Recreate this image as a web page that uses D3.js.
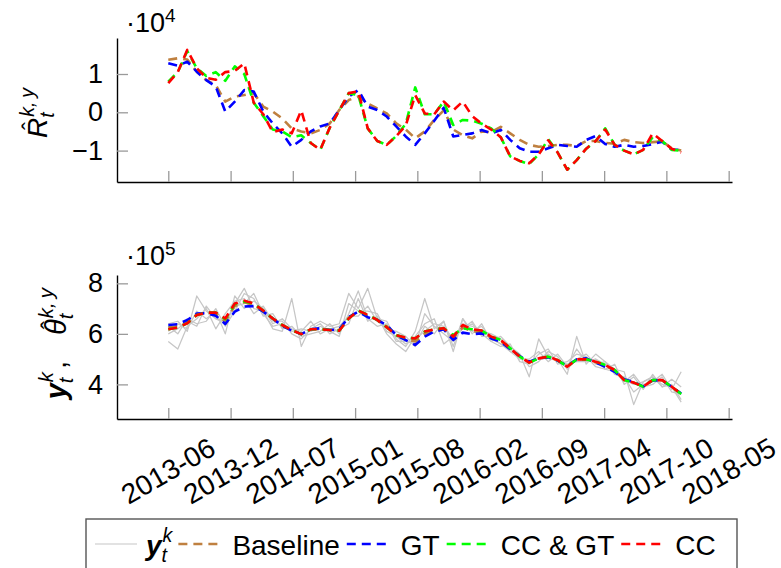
<!DOCTYPE html>
<html><head><meta charset="utf-8">
<script src="https://cdn.jsdelivr.net/npm/d3@7"></script>
<style>
body{margin:0;background:#fff}
svg{display:block}
text{font-family:"Liberation Sans", Arial, Helvetica, sans-serif; fill:#000}
</style>
</head><body>
<svg id="c" width="781" height="568"></svg>
<script>
// ---------- DATA ----------
const xTickPos = [0, 6.56, 13.11, 19.67, 26.22, 32.78, 39.33, 45.89, 52.44, 59];
const xTickLabels = ["2013-06","2013-12","2014-07","2015-01","2015-08","2016-02","2016-09","2017-04","2017-10","2018-05"];
const topTicks = [-1, 0, 1];   // x 10^4
const botTicks = [4, 6, 8];    // x 10^5

// Top panel: R-hat (in units of 1e4), monthly from 2013-06
const rBaseline = [1.37,1.41,1.38,1.06,0.84,0.71,0.28,0.41,0.45,0.5,0.15,0.02,-0.16,-0.42,-0.5,-0.55,-0.46,-0.29,0.06,0.32,0.41,0.23,0.1,-0.03,-0.29,-0.45,-0.68,-0.5,-0.2,0.05,-0.45,-0.6,-0.68,-0.5,-0.52,-0.38,-0.55,-0.72,-0.85,-0.9,-0.88,-0.85,-0.85,-0.88,-0.75,-0.75,-0.8,-0.82,-0.72,-0.78,-0.8,-0.78,-0.76,-0.94,-1.0];
const rGT = [1.28,1.22,1.32,1.06,0.84,0.67,0.02,0.28,0.58,0.54,0.02,-0.29,-0.55,-0.9,-0.72,-0.5,-0.37,-0.29,0.06,0.41,0.58,0.15,0.06,-0.11,-0.37,-0.63,-0.85,-0.55,-0.22,0.12,-0.63,-0.59,-0.55,-0.46,-0.55,-0.46,-0.72,-0.94,-1.03,-1.03,-0.94,-0.85,-0.88,-0.9,-0.72,-0.62,-0.83,-0.9,-0.85,-0.9,-0.88,-0.83,-0.77,-0.97,-0.98];
const rCCGT = [0.8,1.05,1.6,1.15,0.95,1.05,0.82,1.2,1.0,0.25,-0.1,-0.45,-0.5,-0.65,-0.6,-0.8,-0.98,-0.4,0.05,0.5,0.45,-0.42,-0.75,-0.85,-0.62,-0.3,0.65,-0.05,-0.05,0.28,-0.33,-0.2,-0.22,-0.3,-0.42,-0.65,-1.15,-1.27,-1.35,-1.1,-0.7,-1.05,-1.5,-1.25,-0.95,-0.75,-0.42,-0.85,-1.0,-1.1,-0.98,-0.65,-0.75,-0.98,-1.0];
const rCC = [0.76,1.05,1.63,1.15,0.9,0.85,1.05,1.08,1.28,0.25,-0.05,-0.52,-0.45,-0.55,0.05,-0.8,-0.98,-0.4,0.05,0.5,0.55,-0.42,-0.75,-0.85,-0.62,-0.35,0.45,-0.03,-0.05,0.28,0.05,0.28,-0.1,-0.3,-0.45,-0.65,-1.15,-1.27,-1.33,-1.1,-0.73,-1.05,-1.5,-1.25,-0.95,-0.75,-0.45,-0.85,-1.0,-1.1,-0.98,-0.55,-0.75,-0.95,-1.05];

// Bottom panel: observations y_t^k and estimates theta-hat (in units of 1e5)
const yObs1 = [6.4,6.5,6.1,7.5,6.9,6.6,6.4,7.2,7.8,7.0,6.9,6.2,6.1,7.4,5.5,6.3,6.5,6.3,6.4,7.6,7.0,7.8,6.6,6.5,5.8,5.5,6.1,7.4,6.2,6.5,5.3,6.6,6.0,6.4,5.7,5.9,5.5,5.2,4.3,5.8,5.1,5.0,4.4,5.9,4.8,5.2,4.9,4.6,4.5,3.2,4.1,4.3,3.9,4.2,3.9];
const yObs2 = [5.7,5.4,6.3,6.6,7.0,6.2,6.8,7.3,7.4,6.8,7.1,6.5,6.5,6.0,5.8,6.2,6.4,6.0,6.2,6.4,7.4,6.5,6.7,6.0,5.6,5.3,5.9,6.4,6.6,5.6,5.9,6.2,6.4,6.0,5.7,5.5,5.6,4.9,4.8,5.2,5.4,4.8,4.9,5.2,5.1,4.7,4.6,4.8,4.0,4.3,3.8,4.4,3.9,4.0,3.4];
const yObs3 = [6.3,6.0,6.6,6.4,6.5,7.0,6.3,6.9,7.6,7.4,6.7,6.8,6.2,6.3,5.9,6.0,6.1,6.4,6.0,6.8,7.7,6.6,6.3,6.4,5.7,5.7,5.6,6.3,6.0,6.5,5.5,6.6,6.1,6.3,5.8,5.6,5.3,5.2,4.7,4.9,5.3,5.1,4.6,5.0,5.2,4.8,4.9,4.4,4.3,3.7,4.0,4.1,4.4,3.8,4.5];
const yObs4 = [6.1,6.4,6.2,6.9,6.6,6.9,6.0,7.5,7.0,7.3,7.0,6.4,6.6,6.2,6.1,6.5,6.0,6.2,6.3,6.7,6.7,7.1,6.5,6.2,6.1,5.9,5.5,6.8,6.3,6.0,5.7,6.4,6.3,6.1,6.0,5.8,5.3,5.0,5.0,5.3,4.9,5.2,4.7,5.4,4.9,5.0,4.6,4.5,4.1,4.4,3.9,4.0,4.3,3.7,3.6];
const yObs5 = [6.0,6.2,6.5,6.3,7.1,6.6,6.5,7.1,7.2,7.6,6.8,6.3,6.4,6.1,6.2,6.1,6.3,6.1,5.9,7.2,6.9,6.9,6.8,6.1,5.9,5.6,5.8,6.1,6.4,6.3,5.8,6.2,6.5,5.9,5.9,5.6,5.4,5.1,4.9,5.0,5.2,4.9,4.8,4.9,4.9,5.0,4.8,4.6,4.2,4.0,4.1,4.3,4.0,3.9,3.3];
const tBaseline = [6.25,6.3,6.45,6.75,6.83,6.8,6.5,7.1,7.25,7.15,6.9,6.6,6.33,6.14,5.99,6.18,6.2,6.15,6.15,6.63,6.9,6.72,6.55,6.3,5.95,5.8,5.7,6.0,6.14,6.2,5.85,6.25,6.1,6.08,5.85,5.72,5.41,5.11,4.88,5.03,5.08,4.95,4.72,4.99,5.01,4.88,4.74,4.54,4.18,4.08,3.91,4.17,4.16,3.91,3.63];
const tGT = [6.35,6.38,6.55,6.8,6.82,6.72,6.39,6.88,7.08,7.1,6.88,6.61,6.31,6.13,5.99,6.18,6.22,6.15,6.18,6.66,6.88,6.66,6.55,6.35,5.95,5.75,5.56,5.89,6.09,6.18,5.76,6.05,5.99,6.02,5.82,5.69,5.39,5.12,4.9,5.03,5.07,4.94,4.73,4.99,5.03,4.86,4.7,4.5,4.2,4.1,3.91,4.17,4.15,3.91,3.64];
const tCCGT = [6.18,6.25,6.42,6.75,6.84,6.84,6.58,7.18,7.28,7.2,6.92,6.61,6.35,6.15,5.99,6.18,6.18,6.15,6.13,6.61,6.92,6.75,6.55,6.26,5.95,5.85,5.82,6.09,6.18,6.22,5.95,6.22,6.18,6.13,5.89,5.76,5.43,5.1,4.86,5.03,5.1,4.96,4.7,4.99,4.99,4.9,4.77,4.57,4.17,4.07,3.91,4.17,4.17,3.91,3.62];
const tCC = [6.18,6.25,6.42,6.75,6.84,6.84,6.61,7.2,7.31,7.2,6.92,6.61,6.35,6.15,5.99,6.18,6.18,6.15,6.13,6.61,6.92,6.75,6.55,6.26,5.95,5.85,5.82,6.09,6.18,6.22,5.89,6.35,6.18,6.13,5.89,5.76,5.43,5.1,4.86,5.03,5.1,4.96,4.7,4.99,4.99,4.9,4.77,4.57,4.17,4.07,3.91,4.17,4.17,3.91,3.62];

const seriesNames = ["Baseline","GT","CC & GT","CC"];
const seriesColors = ["#bf8040","#0000ff","#00ff00","#ff0000"];
const greyColor = "#c6c6c6";

// ---------- DRAW ----------
const svg = d3.select("#c");
const x = d3.scaleLinear().domain([-5.4, 59.35]).range([117, 732]);
const yTop = d3.scaleLinear().domain([-1.82, 1.94]).range([182, 38]);
const yBot = d3.scaleLinear().domain([2.63, 8.33]).range([419, 275]);
const DASH = "9,6";

function drawPanel(y, ticks, expo, expY, dashedSeries, greySeries) {
  const g = svg.append("g");
  const [yb] = y.range();
  const ax = g.append("g").attr("transform", `translate(0,${yb})`)
    .call(d3.axisBottom(x).tickValues(xTickPos).tickSize(-11).tickSizeOuter(0).tickFormat(""));
  ax.selectAll(".tick line").attr("stroke", "#9a9a9a").attr("stroke-width", 1.3);
  ax.select(".domain").attr("stroke", "#000").attr("stroke-width", 1.4);
  const ay = g.append("g").attr("transform", `translate(117,0)`)
    .call(d3.axisLeft(y).tickValues(ticks).tickSize(-11).tickSizeOuter(0).tickPadding(14).tickFormat(d3.format("d")));
  ay.selectAll(".tick line").attr("stroke", "#9a9a9a").attr("stroke-width", 1.3);
  ay.select(".domain").attr("stroke", "#000").attr("stroke-width", 1.4);
  ay.selectAll(".tick text").attr("font-size", 27).attr("font-family", '"Liberation Sans", Arial, sans-serif').attr("fill", "#000");
  const ex = g.append("text").attr("x", 126).attr("y", expY).attr("font-size", 27);
  ex.append("tspan").text("\u00b710");
  ex.append("tspan").attr("font-size", 19).attr("dy", -10).text(expo);

  const line = d3.line().x((d, i) => x(i)).y(d => y(d));
  (greySeries || []).forEach(s => {
    g.append("path").attr("d", line(s)).attr("fill", "none")
      .attr("stroke", greyColor).attr("stroke-width", 1.25).attr("stroke-linejoin", "round");
  });
  dashedSeries.forEach((s, k) => {
    g.append("path").attr("d", line(s)).attr("fill", "none")
      .attr("stroke", seriesColors[k]).attr("stroke-width", 2.6)
      .attr("stroke-dasharray", DASH).attr("stroke-linejoin", "round");
  });
  return g;
}

drawPanel(yTop, topTicks, "4", 31.7, [rBaseline, rGT, rCCGT, rCC], null);
drawPanel(yBot, botTicks, "5", 265, [tBaseline, tGT, tCCGT, tCC], [yObs1, yObs2, yObs3, yObs4, yObs5]);

// x tick labels (rotated, centred under ticks)
svg.append("g").selectAll("text").data(xTickPos).join("text")
  .attr("transform", d => `translate(${x(d)},471) rotate(-30)`)
  .attr("text-anchor", "middle").attr("dominant-baseline", "central")
  .attr("font-size", 28)
  .text((d, i) => xTickLabels[i]);

// ---- math text as a single <text> with tspans ----
function measure(str, fs, style, weight) {
  const m = svg.append("text").attr("font-size", fs).attr("font-style", style || "normal")
    .attr("font-weight", weight || "normal").text(str);
  const w = m.node().getComputedTextLength();
  m.remove();
  return w;
}
function mathText(parent, items, size) {
  const t = parent.append("text").attr("x", 0).attr("y", 0).attr("font-size", size);
  let curDy = 0, pendDx = 0, total = 0;
  const dyTo = v => { const d = v - curDy; curDy = v; return d; };
  const ss = size * 0.7;
  items.forEach(it => {
    const st = it.italic ? "italic" : "normal", wt = it.bold ? "bold" : "normal";
    const w = measure(it.text, size, st, wt);
    t.append("tspan").attr("dx", pendDx + (it.before || 0)).attr("dy", dyTo(0))
      .attr("font-style", st).attr("font-weight", wt).text(it.text);
    total += pendDx + (it.before || 0) + w;
    pendDx = 0;
    if (it.hat) {
      const hs = size * 0.85, hw = measure("\u02c6", hs);
      const back = -(w / 2 + hw / 2) + 2;
      t.append("tspan").attr("dx", back).attr("dy", dyTo(-size * 0.27)).attr("font-size", hs).text("\u02c6");
      pendDx = -(back + hw);
    }
    if (it.sup || it.sub) {
      const supW = it.sup ? measure(it.sup, ss, "italic") : 0;
      const subW = it.sub ? measure(it.sub, ss, "italic") : 0;
      let adv = 0;
      if (it.sup) {
        t.append("tspan").attr("dx", pendDx + 1).attr("dy", dyTo(-size * 0.46))
          .attr("font-size", ss).attr("font-style", "italic").text(it.sup);
        pendDx = 0; adv = 1 + supW;
      }
      if (it.sub) {
        t.append("tspan").attr("dx", it.sup ? -supW - 1 : pendDx + 1).attr("dy", dyTo(size * 0.25))
          .attr("font-size", ss).attr("font-style", "italic").text(it.sub);
        if (!it.sup) adv = 1 + subW;
        pendDx = it.sup ? Math.max(0, supW - subW) : 0;
      }
      total += Math.max(adv, 1 + subW);
    }
  });
  return {node: t, width: total};
}

// y labels (rotated)
{
  const g = svg.append("g").attr("transform", "translate(47,113) rotate(-90)");
  const m = mathText(g, [{text: "R", italic: true, hat: true, sup: "k,\u2009y", sub: "t"}], 28);
  m.node.attr("x", -m.width / 2);
}
{
  const g = svg.append("g").attr("transform", "translate(66,341) rotate(-90)");
  const m = mathText(g, [
    {text: "y", italic: true, bold: true, sup: "k", sub: "t"},
    {text: ",", italic: false, before: 4},
    {text: "\u03b8", italic: true, hat: true, sup: "k,\u2009y", sub: "t", before: 26}
  ], 29);
  m.node.attr("x", -m.width / 2);
}

// legend
{
  const lg = svg.append("g");
  lg.append("rect").attr("x", 86).attr("y", 519).attr("width", 651).attr("height", 70)
    .attr("fill", "#fff").attr("stroke", "#555").attr("stroke-width", 1.4);
  const ly = 544, tb = 555, lineW = 42;
  let cx = 95;
  lg.append("line").attr("x1", cx).attr("x2", cx + lineW).attr("y1", ly).attr("y2", ly)
    .attr("stroke", greyColor).attr("stroke-width", 1.2);
  cx += lineW + 9;
  const mg = lg.append("g").attr("transform", `translate(${cx},${tb})`);
  cx += mathText(mg, [{text: "y", italic: true, bold: true, sup: "k", sub: "t"}], 28).width + 6;
  seriesNames.forEach((name, k) => {
    lg.append("line").attr("x1", cx).attr("x2", cx + lineW - 1).attr("y1", ly).attr("y2", ly)
      .attr("stroke", seriesColors[k]).attr("stroke-width", 2.6).attr("stroke-dasharray", DASH);
    cx += lineW + 12;
    const t = lg.append("text").attr("x", cx).attr("y", tb).attr("font-size", 28).text(name);
    cx += t.node().getComputedTextLength() + 7;
  });
}
</script>
</body></html>
